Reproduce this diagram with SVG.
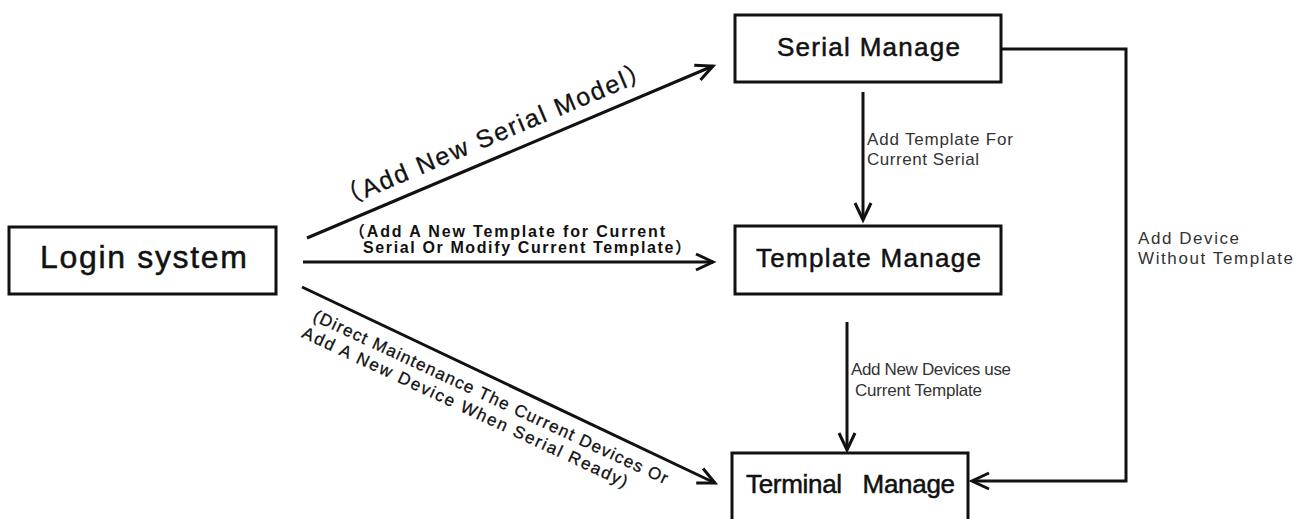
<svg xmlns="http://www.w3.org/2000/svg" width="1307" height="519" viewBox="0 0 1307 519">
<defs>
<style>
.box{fill:#fff;stroke:#111;stroke-width:3}
.bt{font-family:"Liberation Sans",Arial,sans-serif;font-size:26px;fill:#111;stroke:#111;stroke-width:0.5;text-anchor:middle}
.con{fill:none;stroke:#111;stroke-width:3}
.lbl{font-family:"Liberation Sans",Arial,sans-serif;font-size:17px;fill:#333}
.dl{font-family:"Liberation Sans","Noto Sans CJK SC",sans-serif;fill:#111}
</style>
<marker id="arr" viewBox="-22 -12 26 24" refX="0" refY="0" markerWidth="26" markerHeight="24" markerUnits="userSpaceOnUse" orient="auto">
<path d="M-17,-8 L0,0 L-17,8" fill="none" stroke="#111" stroke-width="3"/>
</marker>
</defs>
<rect width="1307" height="519" fill="#fff"/>
<g id="connectors">
<line class="con" x1="307" y1="238" x2="713" y2="66" marker-end="url(#arr)"/>
<line class="con" x1="303" y1="262" x2="713" y2="262" marker-end="url(#arr)"/>
<line class="con" x1="302" y1="287" x2="715" y2="483" marker-end="url(#arr)"/>
<line class="con" x1="863" y1="92" x2="863" y2="220" marker-end="url(#arr)"/>
<line class="con" x1="847" y1="322" x2="847" y2="450" marker-end="url(#arr)"/>
<polyline class="con" points="1001,49 1126,49 1126,481 972,481" marker-end="url(#arr)"/>
<text class="dl" font-size="25" letter-spacing="2" stroke="#111" stroke-width="0.3" text-anchor="middle" transform="translate(498,142) rotate(-22.9)">（Add New Serial Model）</text>
<text class="dl" font-size="16" font-weight="bold" x="349" y="237" textLength="316" lengthAdjust="spacing">（Add A New Template for Current</text>
<text class="dl" font-size="16" font-weight="bold" x="363" y="253" textLength="328" lengthAdjust="spacing">Serial Or Modify Current Template）</text>
<g transform="translate(312,320) rotate(25)">
<text class="dl" font-size="17" stroke="#111" stroke-width="0.3" x="0" y="0" textLength="389" lengthAdjust="spacing">(Direct Maintenance The Current Devices Or</text>
<text class="dl" font-size="17" stroke="#111" stroke-width="0.3" x="-3" y="20" textLength="357" lengthAdjust="spacing">Add A New Device When Serial Ready)</text>
</g>
<text class="lbl" font-size="18" x="867" y="145" textLength="146" lengthAdjust="spacing">Add Template For</text>
<text class="lbl" font-size="18" x="867" y="165" textLength="112" lengthAdjust="spacing">Current Serial</text>
<text class="lbl" x="851" y="375" textLength="160" lengthAdjust="spacing">Add New Devices use</text>
<text class="lbl" x="855" y="396" textLength="127" lengthAdjust="spacing">Current Template</text>
<text class="lbl" x="1138" y="244" textLength="101" lengthAdjust="spacing">Add Device</text>
<text class="lbl" x="1138" y="264" textLength="155" lengthAdjust="spacing">Without Template</text>
</g>
<g id="login">
<rect class="box" x="9" y="227" width="267" height="67"/>
<text class="bt" x="143.5" y="268" style="font-size:32px" textLength="207" lengthAdjust="spacing">Login system</text>
</g>
<g id="serial">
<rect class="box" x="735" y="15" width="266" height="67"/>
<text class="bt" x="868.5" y="56" textLength="183" lengthAdjust="spacing">Serial Manage</text>
</g>
<g id="template">
<rect class="box" x="735" y="226" width="266" height="68"/>
<text class="bt" x="868.5" y="267" textLength="225" lengthAdjust="spacing">Template Manage</text>
</g>
<g id="terminal">
<rect class="box" x="732" y="453" width="236" height="72"/>
<text class="bt" x="850.5" y="493" textLength="209" lengthAdjust="spacing" style="white-space:pre">Terminal   Manage</text>
</g>
</svg>
